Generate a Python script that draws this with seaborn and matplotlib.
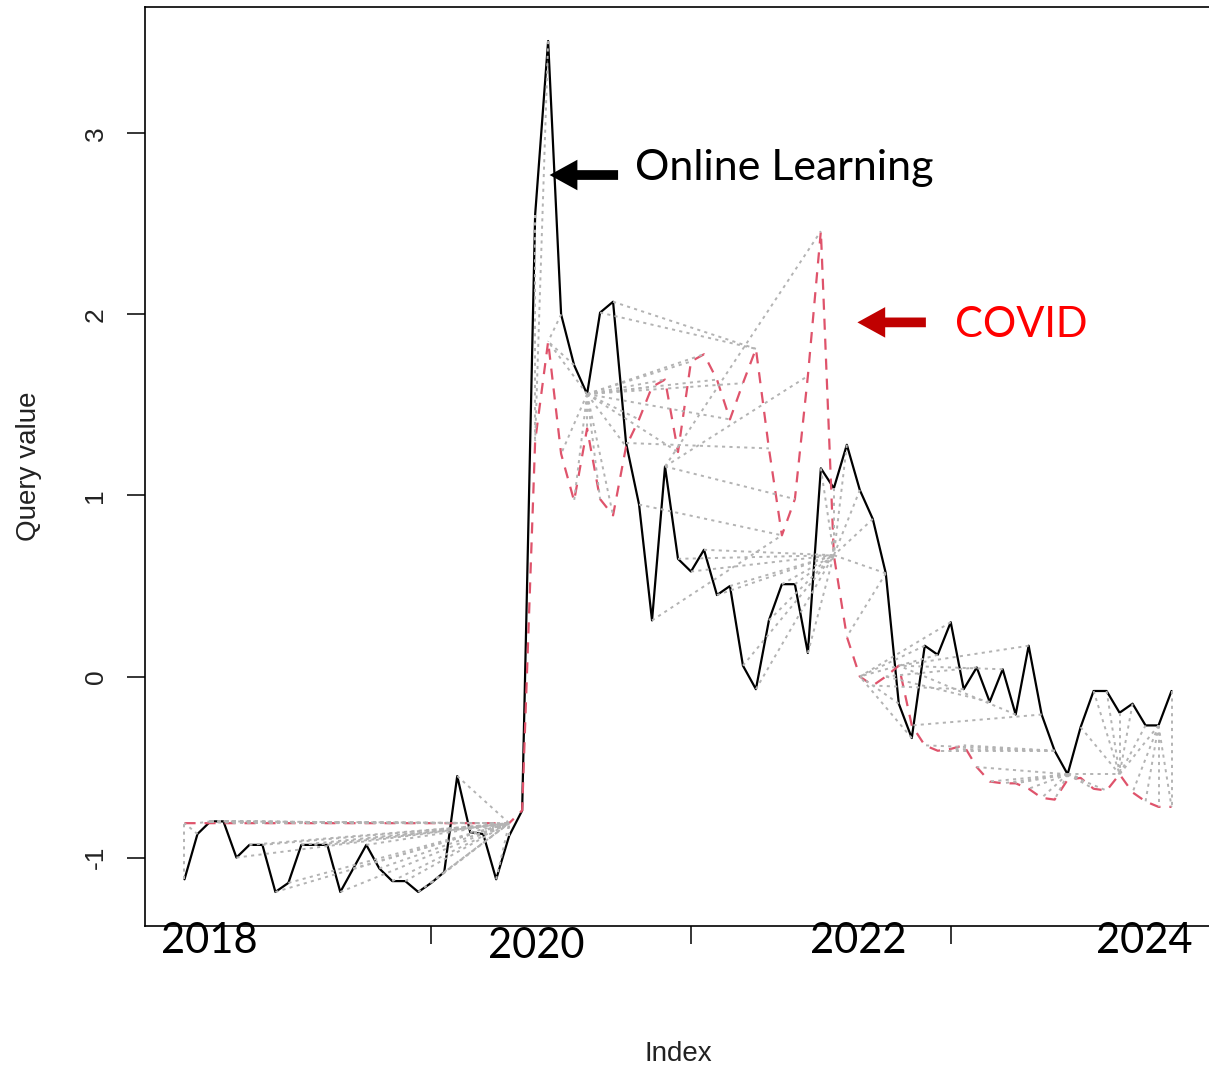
import numpy as np
import pandas as pd
import matplotlib
matplotlib.use("Agg")
import matplotlib.pyplot as plt
from matplotlib.collections import LineCollection
import seaborn as sns

# =========================
# DATA
# =========================
online_learning = [
    -1.12, -0.87, -0.80, -0.80, -1.00, -0.93, -0.93, -1.19, -1.14, -0.93,
    -0.93, -0.93, -1.19, -1.06, -0.93, -1.06, -1.13, -1.13, -1.19, -1.14,
    -1.08, -0.55, -0.86, -0.87, -1.12, -0.88, -0.74, 2.55, 3.51, 2.00,
    1.72, 1.56, 2.01, 2.07, 1.29, 0.95, 0.31, 1.16, 0.65, 0.58,
    0.70, 0.45, 0.50, 0.06, -0.07, 0.31, 0.51, 0.51, 0.13, 1.15,
    1.04, 1.28, 1.03, 0.87, 0.57, -0.15, -0.34, 0.17, 0.12, 0.30,
    -0.07, 0.05, -0.14, 0.04, -0.21, 0.17, -0.21, -0.41, -0.54, -0.28,
    -0.08, -0.08, -0.20, -0.15, -0.27, -0.27, -0.08,
]
covid = [
    -0.81, -0.81, -0.81, -0.81, -0.81, -0.81, -0.81, -0.81, -0.81, -0.81,
    -0.81, -0.81, -0.81, -0.81, -0.81, -0.81, -0.81, -0.81, -0.81, -0.81,
    -0.81, -0.81, -0.81, -0.81, -0.81, -0.81, -0.74, 1.30, 1.85, 1.23,
    0.97, 1.37, 0.98, 0.89, 1.27, 1.42, 1.60, 1.64, 1.24, 1.74,
    1.78, 1.64, 1.42, 1.62, 1.81, 1.26, 0.78, 0.98, 1.66, 2.46,
    0.67, 0.22, 0.00, -0.05, 0.00, 0.06, -0.27, -0.38, -0.41, -0.40,
    -0.38, -0.50, -0.58, -0.59, -0.59, -0.62, -0.67, -0.68, -0.57, -0.56,
    -0.62, -0.63, -0.54, -0.64, -0.69, -0.72, -0.72,
]
year_labels = ["2018", "2020", "2022", "2024"]
x_ticks = [0, 20, 40, 60, 80]
y_ticks = [-1, 0, 1, 2, 3]

# layout of the hand-placed overlay text (index units / axes fraction)
year_label_x = [2.9, 28.1, 52.9, 74.9]
year_label_y = [-0.0163, -0.0218, -0.0163, -0.0163]


# =========================
# DTW ALIGNMENT (symmetric2)
# =========================
def dtw_path(a, b):
    a = np.asarray(a)
    b = np.asarray(b)
    n, m = len(a), len(b)
    d = np.abs(np.subtract.outer(a, b))
    g = np.full((n, m), np.inf)
    step = np.zeros((n, m), dtype=int)
    g[0, 0] = d[0, 0]
    for i in range(n):
        for j in range(m):
            if i == 0 and j == 0:
                continue
            cands = []
            if i > 0 and j > 0:
                cands.append((g[i - 1, j - 1] + 2 * d[i, j], 0))
            if i > 0:
                cands.append((g[i - 1, j] + d[i, j], 1))
            if j > 0:
                cands.append((g[i, j - 1] + d[i, j], 2))
            g[i, j], step[i, j] = min(cands)
    i, j = n - 1, m - 1
    path = [(i, j)]
    while i > 0 or j > 0:
        s = step[i, j]
        if s == 0:
            i, j = i - 1, j - 1
        elif s == 1:
            i -= 1
        else:
            j -= 1
        path.append((i, j))
    return path[::-1]


idx = np.arange(1, len(online_learning) + 1)
df = pd.DataFrame({"Index": idx, "online": online_learning, "covid": covid})

path = dtw_path(online_learning, covid)
segs = [[(i + 1, online_learning[i]), (j + 1, covid[j])] for i, j in path]

# =========================
# PLOT
# =========================
sns.set_style("white")
plt.rcParams["font.family"] = ["Liberation Sans", "DejaVu Sans"]
plt.rcParams["axes.unicode_minus"] = False

fig = plt.figure(figsize=(12.09, 10.69), dpi=100)
ax = fig.add_axes([145 / 1209, 143 / 1069, 1066 / 1209, 919 / 1069])

sns.lineplot(data=df, x="Index", y="online", color="black", lw=1.6, ax=ax)
sns.lineplot(data=df, x="Index", y="covid", color="#DF536B", lw=1.6,
             linestyle=(0, (5, 4)), ax=ax)

lc = LineCollection(segs, colors="#B3B3B3", linewidths=1.4,
                    linestyles=[(0, (1.6, 2.2))], zorder=3)
ax.add_collection(lc)

# R-style 4% axis expansion
n = len(idx)
xpad = (n - 1) * 0.04
ax.set_xlim(1 - xpad, n + xpad)
lo = min(min(online_learning), min(covid))
hi = max(max(online_learning), max(covid))
ypad = (hi - lo) * 0.04
ax.set_ylim(lo - ypad, hi + ypad)

for s in ax.spines.values():
    s.set_visible(True)
    s.set_color("black")
    s.set_linewidth(1.2)
    s.set_zorder(20)

ax.set_yticks(y_ticks)
ax.set_yticklabels([str(v) for v in y_ticks], rotation=90, va="center")
ax.set_xticks(x_ticks)
ax.set_xticklabels([])
ax.tick_params(axis="both", direction="out", length=13, width=1.1,
               color="black", labelcolor="#222222", labelsize=19, pad=14,
               bottom=True, left=True)

ax.set_xlabel("Index", fontsize=20, color="#222222")
ax.set_ylabel("Query value", fontsize=20, color="#222222")
ax.xaxis.set_label_coords(0.5, -0.125)
ax.yaxis.set_label_coords(-0.097, 0.5)

# year labels pasted over the index axis
for lab, xv, yv in zip(year_labels, year_label_x, year_label_y):
    ax.text(xv, yv, lab, transform=ax.get_xaxis_transform(), ha="center",
            va="center", fontsize=30, family=["Lato", "DejaVu Sans"],
            color="black", zorder=10, clip_on=False,
            bbox=dict(facecolor="white", edgecolor="none", pad=3))

# annotations
arrow = "simple,head_width=1.1,head_length=1.0,tail_width=0.35"
ax.annotate("", xy=(28.9, 2.77), xytext=(34.6, 2.77),
            arrowprops=dict(arrowstyle=arrow, mutation_scale=20,
                            fc="black", ec="none"))
ax.text(35.7, 2.81, "Online Learning", fontsize=31, family=["Lato", "DejaVu Sans"],
        color="black", ha="left", va="center")

ax.annotate("", xy=(52.6, 1.956), xytext=(58.3, 1.956),
            arrowprops=dict(arrowstyle=arrow, mutation_scale=20,
                            fc="#C00000", ec="none"))
ax.text(60.3, 1.94, "COVID", fontsize=30, family=["Lato", "DejaVu Sans"],
        color="#FF0000", ha="left", va="center")

plt.savefig("out.png", dpi=100)
